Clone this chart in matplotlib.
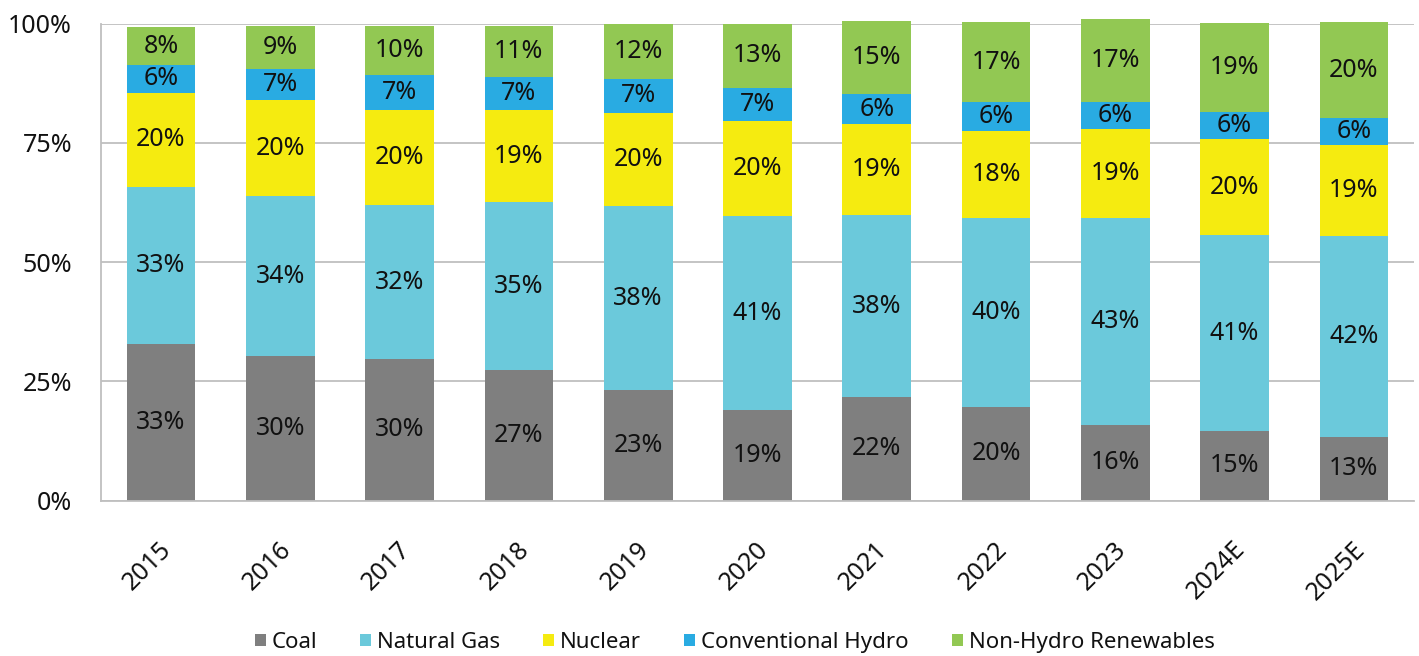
import numpy as np
import matplotlib
matplotlib.use("Agg")
import matplotlib.pyplot as plt
import matplotlib.transforms as mtransforms
from matplotlib.patches import Patch

plt.rcParams["font.family"] = ["Noto Sans", "DejaVu Sans"]

years = ["2015", "2016", "2017", "2018", "2019", "2020", "2021", "2022", "2023", "2024E", "2025E"]

# generation share by source, percent of total
coal = [32.9, 30.3, 29.7, 27.4, 23.2, 19.0, 21.7, 19.6, 15.9, 14.6, 13.4]
natural_gas = [32.9, 33.5, 32.3, 35.2, 38.5, 40.6, 38.2, 39.6, 43.3, 41.1, 42.1]
nuclear = [19.7, 20.2, 19.9, 19.3, 19.6, 20.1, 19.0, 18.3, 18.7, 20.1, 19.1]
hydro = [5.9, 6.6, 7.4, 6.9, 7.1, 6.9, 6.4, 6.0, 5.6, 5.6, 5.6]
renewables = [7.8, 9.0, 10.2, 10.7, 11.6, 13.4, 15.3, 16.9, 17.4, 18.8, 20.1]

series = [
    ("Coal", coal, "#7f7f7f"),
    ("Natural Gas", natural_gas, "#6bc9db"),
    ("Nuclear", nuclear, "#f5eb10"),
    ("Conventional Hydro", hydro, "#29abe2"),
    ("Non-Hydro Renewables", renewables, "#92c853"),
]

fig = plt.figure(figsize=(14.19, 6.56), dpi=100)
ax = fig.add_axes([0.0714, 0.2367, 0.9248, 0.7272])

x = np.arange(len(years))
bottom = np.zeros(len(years))
for name, vals, color in series:
    vals = np.array(vals)
    ax.bar(x, vals, 0.576, bottom=bottom, color=color, label=name,
           zorder=2, clip_on=False)
    for xi, b, v in zip(x, bottom, vals):
        ax.text(xi, b + v / 2, "%.0f%%" % v, ha="center", va="center",
                fontsize=18, color="#111111", zorder=3)
    bottom += vals

ax.set_xlim(-0.5, len(years) - 0.5)
ax.set_ylim(0, 100)
ax.set_yticks([0, 25, 50, 75, 100])
ax.set_yticklabels(["0%", "25%", "50%", "75%", "100%"])
ax.yaxis.grid(True, color="#bfbfbf", linewidth=1.3, zorder=0)
ax.set_axisbelow(True)

for side in ["top", "right"]:
    ax.spines[side].set_visible(False)
for side in ["left", "bottom"]:
    ax.spines[side].set_color("#bfbfbf")
    ax.spines[side].set_linewidth(1.3)

ax.tick_params(axis="y", length=0, pad=21, labelsize=18, labelcolor="#111111")
ax.tick_params(axis="x", length=0, pad=26, labelsize=18, labelcolor="#111111")
ax.set_xticks(x)
ax.set_xticklabels(years, rotation=45, ha="right")
shift = mtransforms.ScaledTranslation(16 / 100, 0, fig.dpi_scale_trans)
for lab in ax.get_xticklabels():
    lab.set_transform(lab.get_transform() + shift)

handles = [Patch(facecolor=c, edgecolor="none", label=n) for n, _, c in series]
fig.legend(handles=handles, loc="center", bbox_to_anchor=(0.5176, 0.021),
           ncol=5, frameon=False, fontsize=16, handlelength=0.5,
           handleheight=0.5, handletextpad=0.25, columnspacing=1.95,
           labelcolor="#111111")

fig.savefig("out.png", dpi=100)
